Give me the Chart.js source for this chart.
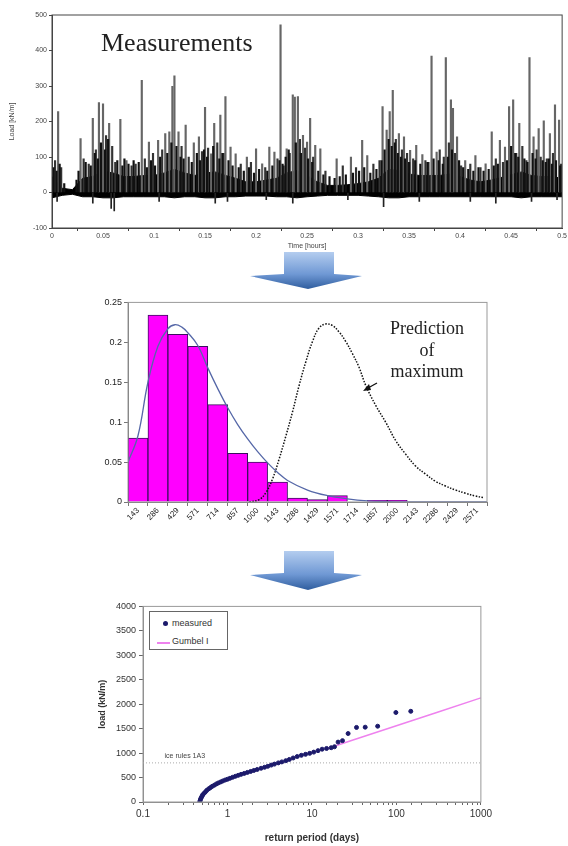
<!DOCTYPE html>
<html>
<head>
<meta charset="utf-8">
<script src="https://cdn.jsdelivr.net/npm/chart.js@4.4.1/dist/chart.umd.min.js"></script>
<style>
  body { margin: 0; background: #fff; width: 568px; height: 846px; overflow: hidden; position: relative; font-family: "Liberation Sans", Arial, sans-serif; }
  .box { position: absolute; }
  .serif { position: absolute; font-family: "Liberation Serif", "Times New Roman", serif; color: #222; line-height: 1; white-space: nowrap; }
  #legend3 { position: absolute; left: 149px; top: 611px; width: 77px; height: 37px; border: 1px solid #666; background: #fff; font-size: 9px; color: #333; }
  #legend3 .row { position: absolute; left: 0; height: 12px; }
  #legend3 .txt { position: absolute; left: 22px; top: 0; white-space: nowrap; }
</style>
</head>
<body>

<div class="box" style="left:0;top:0;width:568px;height:250px"><canvas id="measChart"></canvas></div>
<div class="serif" style="left:101px;top:30px;font-size:26px">Measurements</div>

<svg class="box" style="left:0;top:0" width="568" height="846">
  <defs>
    <linearGradient id="arrowGrad" x1="0" y1="0" x2="0" y2="1">
      <stop offset="0" stop-color="#b4cdef"/>
      <stop offset="0.6" stop-color="#6f98d4"/>
      <stop offset="1" stop-color="#2f5d9e"/>
    </linearGradient>
  </defs>
  <polygon points="284,252 334,252 334,274 362,276 308,289 250,276 284,274" fill="url(#arrowGrad)"/>
  <polygon points="284,551 334,551 334,573 362,575 308,590 250,575 284,573" fill="url(#arrowGrad)"/>
  <line x1="377" y1="383" x2="368" y2="388" stroke="#111" stroke-width="1.4"/>
  <polygon points="363,391 369,384 371,390" fill="#111"/>
</svg>

<div class="box" style="left:95px;top:295px;width:410px;height:250px"><canvas id="histChart"></canvas></div>
<div class="serif" style="left:386px;top:318px;width:82px;text-align:center;font-size:18px;line-height:21.5px">Prediction<br>of<br>maximum</div>

<div class="box" style="left:95px;top:598px;width:400px;height:248px"><canvas id="gumbelChart"></canvas></div>
<div id="legend3">
  <div class="row" style="top:6px"><span style="position:absolute;left:13px;top:3px;width:5px;height:5px;border-radius:50%;background:#1c1a6b"></span><span class="txt" id="lg1"></span></div>
  <div class="row" style="top:24px"><span style="position:absolute;left:7px;top:6px;width:13px;height:1.5px;background:#ee82ee"></span><span class="txt" id="lg2"></span></div>
</div>

<script>
// ---- chart 1: measured time series (hours / kN/m) ----
const bandT  = [0,0.01,0.02,0.03,0.04,0.05,0.06,0.07,0.08,0.09,0.1,0.11,0.12,0.13,0.14,0.15,0.16,0.17,0.18,0.19,0.2,0.21,0.22,0.23,0.24,0.25,0.26,0.27,0.28,0.29,0.3,0.31,0.32,0.33,0.34,0.35,0.36,0.37,0.38,0.39,0.4,0.41,0.42,0.43,0.44,0.45,0.46,0.47,0.48,0.49,0.5];
const bandHi = [45,12,8,40,45,60,55,45,45,48,48,55,65,55,48,55,58,48,40,30,30,35,40,55,62,48,30,20,20,22,25,30,40,65,62,52,48,48,48,52,45,35,30,35,42,50,58,48,45,45,40];
const bandLo = [-15,-8,-5,-12,-12,-15,-15,-12,-12,-12,-12,-12,-15,-12,-12,-15,-15,-12,-12,-10,-10,-10,-12,-12,-15,-12,-10,-8,-8,-8,-8,-10,-12,-15,-15,-12,-12,-12,-12,-12,-12,-12,-12,-12,-12,-12,-15,-12,-12,-12,-12];
const spikeT  = [0.006,0.028,0.04,0.046,0.05,0.056,0.067,0.073,0.088,0.095,0.104,0.111,0.115,0.118,0.12,0.124,0.131,0.139,0.144,0.15,0.156,0.159,0.165,0.17,0.175,0.18,0.191,0.2,0.206,0.213,0.218,0.224,0.23,0.236,0.238,0.241,0.246,0.25,0.253,0.258,0.263,0.279,0.293,0.304,0.309,0.324,0.328,0.331,0.334,0.34,0.345,0.351,0.357,0.363,0.372,0.377,0.386,0.391,0.393,0.397,0.405,0.415,0.425,0.431,0.439,0.444,0.448,0.452,0.458,0.468,0.472,0.477,0.482,0.488,0.493,0.497];
const spikeHi = [228,152,209,253,250,195,206,90,316,142,147,166,171,299,329,171,190,140,157,240,109,195,218,270,128,109,100,123,81,128,114,472,123,275,269,270,161,142,209,133,123,95,100,147,104,242,176,228,288,166,157,119,133,107,384,114,380,261,237,157,90,104,81,171,147,128,242,261,195,380,157,180,202,166,247,204];
const minorT  = [0.003,0.009,0.031,0.036,0.043,0.053,0.059,0.062,0.078,0.082,0.091,0.099,0.108,0.127,0.134,0.147,0.153,0.162,0.168,0.185,0.195,0.209,0.221,0.227,0.233,0.243,0.248,0.256,0.268,0.285,0.298,0.315,0.321,0.337,0.343,0.348,0.354,0.366,0.369,0.38,0.384,0.389,0.395,0.401,0.41,0.42,0.435,0.442,0.455,0.461,0.465,0.475,0.479,0.485,0.491,0.499];
const minorHi = [90,70,95,80,120,160,130,85,75,80,95,110,120,130,100,115,125,140,110,80,85,70,95,75,110,150,125,100,60,75,70,80,90,150,120,110,95,90,85,120,100,140,110,75,80,70,95,85,110,130,90,120,100,95,110,80];
const fineT  = [0.0015,0.0045,0.0075,0.012,0.024,0.026,0.033,0.038,0.042,0.045,0.048,0.052,0.055,0.064,0.069,0.071,0.075,0.08,0.085,0.093,0.097,0.101,0.106,0.113,0.117,0.122,0.126,0.129,0.137,0.142,0.145,0.149,0.152,0.158,0.164,0.167,0.173,0.177,0.183,0.188,0.193,0.198,0.203,0.211,0.216,0.223,0.226,0.229,0.232,0.239,0.244,0.251,0.255,0.261,0.266,0.272,0.277,0.282,0.288,0.295,0.301,0.306,0.312,0.318,0.323,0.326,0.33,0.333,0.336,0.339,0.342,0.346,0.35,0.356,0.361,0.368,0.374,0.379,0.383,0.388,0.392,0.399,0.403,0.408,0.413,0.418,0.423,0.428,0.433,0.437,0.446,0.45,0.454,0.457,0.463,0.466,0.471,0.474,0.481,0.484,0.487,0.49,0.494,0.498];
const fineHi = [70,60,80,25,35,60,85,75,110,95,
  140,120,150,90,75,95,80,90,85,70,
  90,75,100,110,140,130,100,95,85,110,
  90,120,100,130,95,110,90,75,70,60,
  70,55,65,60,75,90,80,100,120,140,
  110,95,85,60,50,45,40,45,50,55,
  60,70,55,65,90,120,150,130,140,110,
  100,95,85,90,80,85,95,90,80,100,
  120,90,70,65,60,70,60,65,75,80,
  90,130,110,100,95,85,110,95,90,85,
  95,80,90,75];
const dipT  = [0.005,0.04,0.058,0.061,0.105,0.16,0.172,0.21,0.236,0.29,0.325,0.36,0.41,0.435,0.47,0.495];
const dipLo = [-25,-30,-45,-52,-25,-30,-25,-20,-30,-20,-40,-25,-25,-30,-25,-20];
const timeTicks = [-100, 0, 100, 200, 300, 400, 500];

// ---- chart 2: histogram of load (kN/m) ----
const binLabels = ['143','286','429','571','714','857','1000','1143','1286','1429','1571','1714','1857','2000','2143','2286','2429','2571'];
const binFreq   = [0.080,0.234,0.210,0.195,0.122,0.061,0.050,0.025,0.005,0.003,0.008,0,0.002,0.002,0,0,0,0];
const fitX  = [0,0.5,1,1.5,2,2.35,2.7,3,3.5,4,4.5,5,5.5,6,6.5,7,7.5,8,9,10,11,12,13,14,18];
const fitY  = [0.050,0.083,0.150,0.195,0.217,0.222,0.219,0.212,0.196,0.168,0.142,0.118,0.097,0.079,0.063,0.049,0.037,0.027,0.015,0.008,0.004,0.0015,0.0005,0,0];
const predX = [6.08,6.58,6.92,7.25,7.58,7.92,8.25,8.58,8.92,9.25,9.58,9.92,10.25,10.58,10.92,11.25,11.58,11.92,12.42,12.92,13.42,13.92,14.42,14.92,15.42,15.92,16.42,16.92,17.42,17.83];
const predY = [0,0.003,0.012,0.029,0.054,0.083,0.113,0.146,0.176,0.201,0.218,0.223,0.221,0.213,0.201,0.186,0.169,0.146,0.121,0.100,0.077,0.060,0.045,0.035,0.026,0.020,0.015,0.011,0.0075,0.0055];

// ---- chart 3: return period vs load ----
const measT    = [0.47,0.475,0.48,0.49,0.5,0.51,0.53,0.55,0.57,0.6,0.63,0.66,0.7,0.74,0.78,0.83,0.88,0.94,1.0,1.07,1.15,1.24,1.34,1.45,1.58,1.72,1.88,2.05,2.25,2.5,2.75,3.0,3.3,3.6,4.0,4.4,4.9,5.4,6.0,6.7,7.5,8.4,9.4,10.5,11.8,13.2,14.9,16.9,18.5,20.4,23,26.8,33.7,42.7,60,98.6,148];
const measLoad = [0,30,60,90,120,150,180,210,240,270,295,320,345,370,390,410,430,450,465,485,505,525,545,565,585,605,625,645,665,690,710,730,755,775,800,820,845,870,900,930,955,975,995,1020,1050,1080,1095,1110,1130,1225,1255,1400,1525,1530,1550,1830,1855];
const gumbT    = [15, 30, 100, 300, 1000];
const gumbLoad = [1090, 1262, 1560, 1832, 2130];
const iceT     = [0.1, 1000];
const iceLoad  = [800, 800];

Chart.defaults.font.family = '"Liberation Sans", Arial, sans-serif';
Chart.defaults.color = '#333';
Chart.defaults.animation = false;

const framePlugin = {
  id: 'frame',
  afterDraw(chart, args, opts) {
    const { ctx, chartArea: a } = chart;
    ctx.save();
    ctx.strokeStyle = opts.color || '#888';
    ctx.lineWidth = opts.width || 1;
    ctx.strokeRect(a.left, a.top, a.width, a.height);
    ctx.restore();
  }
};

const fixSize = (w, h) => (s) => { if (w != null) s.width = w; if (h != null) s.height = h; };
const pts = (xs, ys) => xs.map((x, i) => ({ x, y: ys[i] }));
const spikes = (ts, hs) => ts.map((t, i) => ({ x: t, y: hs[i] < 0 ? [hs[i], 0] : [0, hs[i]] }));

// chart 1
new Chart(document.getElementById('measChart'), {
  type: 'line',
  data: {
    datasets: [
      { data: pts(bandT, bandHi), borderColor: '#000', backgroundColor: '#000', borderWidth: 1, fill: '+1', pointRadius: 0, order: 4 },
      { data: pts(bandT, bandLo), borderColor: '#000', borderWidth: 1, fill: false, pointRadius: 0, order: 4 },
      { type: 'bar', data: spikes(spikeT, spikeHi), backgroundColor: '#666', barThickness: 1.5, grouped: false, order: 3 },
      { type: 'bar', data: spikes(minorT, minorHi), backgroundColor: '#333', barThickness: 1.5, grouped: false, order: 2 },
      { type: 'bar', data: spikes(fineT, fineHi), backgroundColor: '#111', barThickness: 1.5, grouped: false, order: 1 },
      { type: 'bar', data: spikes(dipT, dipLo), backgroundColor: '#222', barThickness: 1, grouped: false, order: 1 }
    ]
  },
  options: {
    responsive: true,
    maintainAspectRatio: false,
    layout: { padding: { left: 0, right: 5, top: 15, bottom: 0 } },
    plugins: { legend: { display: false }, tooltip: { enabled: false }, frame: { color: '#444', width: 1 } },
    scales: {
      x: {
        type: 'linear', min: 0, max: 0.5, offset: false,
        afterFit: fixSize(null, 22),
        grid: { drawOnChartArea: false, tickLength: 3, color: '#444' },
        border: { color: '#444' },
        ticks: { stepSize: 0.05, padding: 1, font: { size: 7 }, color: '#444', callback: v => Math.round(v * 100) / 100 },
        title: { display: true, text: 'Time [hours]', font: { size: 7 }, color: '#444', padding: 0 }
      },
      y: {
        min: -100, max: 500,
        afterFit: fixSize(52, null),
        afterBuildTicks: s => { s.ticks = timeTicks.map(v => ({ value: v })); },
        grid: { drawOnChartArea: false, tickLength: 3, color: '#444' },
        border: { color: '#444' },
        ticks: { padding: 2, font: { size: 7 }, color: '#444' },
        title: { display: true, text: 'Load [kN/m]', font: { size: 7 }, color: '#444', padding: { top: 8, bottom: 2 } }
      }
    }
  },
  plugins: [framePlugin]
});

// chart 2
new Chart(document.getElementById('histChart'), {
  type: 'bar',
  data: {
    labels: binLabels,
    datasets: [
      { data: binFreq, backgroundColor: '#ff00ff', borderColor: '#3b1060', borderWidth: 1, barPercentage: 1, categoryPercentage: 1, grouped: false, order: 3 },
      { type: 'line', xAxisID: 'xc', data: pts(fitX, fitY), borderColor: '#5668a8', borderWidth: 1.3, pointRadius: 0, tension: 0.4, fill: false, order: 1 },
      { type: 'line', xAxisID: 'xc', data: pts(predX, predY), borderColor: '#111', borderWidth: 1.5, borderDash: [1.5, 1.5], pointRadius: 0, tension: 0.4, fill: false, order: 1 }
    ]
  },
  options: {
    responsive: true,
    maintainAspectRatio: false,
    layout: { padding: { left: 0, right: 18, top: 4, bottom: 0 } },
    plugins: { legend: { display: false }, tooltip: { enabled: false }, frame: { color: '#999', width: 1 } },
    scales: {
      x: {
        afterFit: fixSize(null, 43),
        grid: { drawOnChartArea: false, offset: true, tickLength: 4, color: '#777' },
        border: { color: '#777' },
        ticks: { autoSkip: false, minRotation: 45, maxRotation: 45, padding: 0, font: { size: 8 }, color: '#222' }
      },
      xc: { type: 'linear', min: 0, max: 18, offset: false, display: false },
      y: {
        min: 0, max: 0.25,
        afterFit: fixSize(33, null),
        grid: { drawOnChartArea: false, tickLength: 4, color: '#777' },
        border: { color: '#777' },
        ticks: { stepSize: 0.05, padding: 2, font: { size: 9 }, color: '#222', callback: v => String(Math.round(v * 100) / 100) }
      }
    }
  },
  plugins: [framePlugin]
});

// chart 3
const iceLabel = {
  id: 'iceLabel',
  afterDatasetsDraw(chart) {
    const { ctx, scales } = chart;
    ctx.save();
    ctx.font = '7px "Liberation Sans", Arial, sans-serif';
    ctx.fillStyle = '#444';
    ctx.textBaseline = 'bottom';
    ctx.fillText('ice rules 1A3', scales.x.getPixelForValue(0.18), scales.y.getPixelForValue(iceLoad[0]) - 3);
    ctx.restore();
  }
};

const gChart = new Chart(document.getElementById('gumbelChart'), {
  type: 'scatter',
  data: {
    datasets: [
      { label: 'ice rules 1A3', data: pts(iceT, iceLoad), showLine: true, borderColor: '#aaa', borderWidth: 1, borderDash: [1, 2], pointRadius: 0, order: 3 },
      { label: 'Gumbel I', data: pts(gumbT, gumbLoad), showLine: true, borderColor: '#ee82ee', borderWidth: 1.5, pointRadius: 0, order: 2 },
      { label: 'measured', data: pts(measT, measLoad), backgroundColor: '#1c1a6b', borderColor: '#1c1a6b', pointRadius: 2, order: 1 }
    ]
  },
  options: {
    responsive: true,
    maintainAspectRatio: false,
    layout: { padding: { left: 0, right: 14, top: 4, bottom: 0 } },
    plugins: { legend: { display: false }, tooltip: { enabled: false }, frame: { color: '#999', width: 1 } },
    scales: {
      x: {
        type: 'logarithmic', min: 0.1, max: 1000,
        afterFit: fixSize(null, 44),
        grid: { drawOnChartArea: false, tickLength: 3, color: '#666' },
        border: { color: '#888' },
        ticks: {
          autoSkip: false, maxRotation: 0, padding: 3, font: { size: 10 }, color: '#333',
          callback: v => { const l = Math.log10(v); return Math.abs(l - Math.round(l)) < 1e-9 ? String(v) : ''; }
        },
        title: { display: true, text: 'return period (days)', font: { size: 10, weight: 'bold' }, color: '#333', padding: { top: 2, bottom: 2 } }
      },
      y: {
        min: 0, max: 4000,
        afterFit: fixSize(48, null),
        grid: { drawOnChartArea: false, tickLength: 4, color: '#666' },
        border: { color: '#888' },
        ticks: { stepSize: 500, padding: 3, font: { size: 9 }, color: '#333', callback: v => String(v) },
        title: { display: true, text: 'load (kN/m)', font: { size: 9, weight: 'bold' }, color: '#333', padding: 2 }
      }
    }
  },
  plugins: [framePlugin, iceLabel]
});

document.getElementById('lg1').textContent = gChart.data.datasets[2].label;
document.getElementById('lg2').textContent = gChart.data.datasets[1].label;
</script>
</body>
</html>
